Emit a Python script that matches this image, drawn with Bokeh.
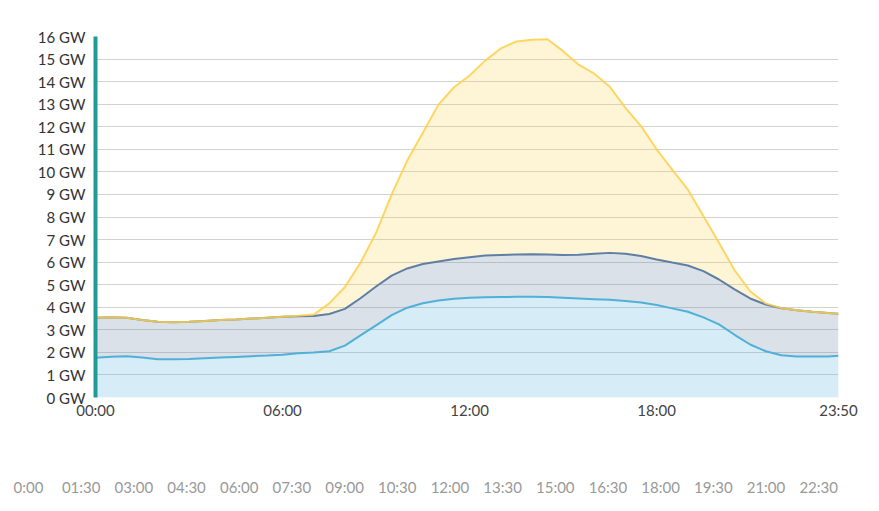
from bokeh.plotting import figure
from bokeh.models import Range1d, FixedTicker, ColumnDataSource
from bokeh.embed import file_html
from bokeh.resources import INLINE

times = ["00:00", "00:30", "01:00", "01:30", "02:00", "02:30", "03:00", "03:30",
         "04:00", "04:30", "05:00", "05:30", "06:00", "06:30", "07:00", "07:30",
         "08:00", "08:30", "09:00", "09:30", "10:00", "10:30", "11:00", "11:30",
         "12:00", "12:30", "13:00", "13:30", "14:00", "14:30", "15:00", "15:30",
         "16:00", "16:30", "17:00", "17:30", "18:00", "18:30", "19:00", "19:30",
         "20:00", "20:30", "21:00", "21:30", "22:00", "22:30", "23:00", "23:30", "23:50"]

base_gw = [1.76, 1.81, 1.83, 1.77, 1.70, 1.69, 1.71, 1.74,
           1.77, 1.80, 1.83, 1.86, 1.90, 1.96, 1.99, 2.05,
           2.30, 2.75, 3.20, 3.65, 3.98, 4.18, 4.30, 4.38,
           4.42, 4.44, 4.45, 4.46, 4.46, 4.45, 4.42, 4.39,
           4.36, 4.33, 4.28, 4.21, 4.10, 3.95, 3.80, 3.55,
           3.24, 2.78, 2.35, 2.05, 1.87, 1.82, 1.82, 1.82, 1.85]

mid_gw = [3.53, 3.56, 3.53, 3.44, 3.36, 3.34, 3.36, 3.39,
          3.43, 3.46, 3.50, 3.54, 3.58, 3.60, 3.61, 3.70,
          3.93, 4.40, 4.92, 5.40, 5.72, 5.92, 6.03, 6.14,
          6.22, 6.29, 6.32, 6.34, 6.35, 6.34, 6.32, 6.33,
          6.37, 6.41, 6.37, 6.27, 6.12, 5.98, 5.85, 5.60,
          5.23, 4.79, 4.39, 4.12, 3.96, 3.87, 3.80, 3.74, 3.71]

top_gw = [3.53, 3.56, 3.53, 3.44, 3.36, 3.34, 3.36, 3.39,
          3.43, 3.46, 3.50, 3.54, 3.58, 3.62, 3.68, 4.17,
          4.90, 5.97, 7.30, 9.00, 10.50, 11.73, 12.98, 13.75,
          14.27, 14.93, 15.47, 15.78, 15.86, 15.88, 15.35, 14.75,
          14.35, 13.77, 12.84, 12.03, 11.00, 10.10, 9.22, 8.04,
          6.86, 5.64, 4.71, 4.17, 3.96, 3.87, 3.80, 3.74, 3.71]

y_ticks = list(range(0, 17))
y_tick_labels = [f"{v} GW" for v in y_ticks]
x_tick_labels = ["00:00", "06:00", "12:00", "18:00", "23:50"]
nav_tick_labels = ["0:00", "01:30", "03:00", "04:30", "06:00", "07:30", "09:00", "10:30",
                   "12:00", "13:30", "15:00", "16:30", "18:00", "19:30", "21:00", "22:30"]


def to_min(s):
    h, m = s.split(":")
    return int(h) * 60 + int(m)


minutes = [to_min(t) for t in times]
zeros = [0] * len(minutes)
src = ColumnDataSource(dict(x=minutes, zero=zeros, base=base_gw, mid=mid_gw, top=top_gw))

FONT = "Lato"
FSIZE = "15px"
end_min = to_min(times[-1])

p = figure(width=871, height=431, x_range=Range1d(0, end_min), y_range=Range1d(0, 16),
           output_backend="svg", toolbar_location=None,
           min_border_left=95, min_border_right=33, min_border_top=36, min_border_bottom=34)
p.outline_line_color = None

p.varea(x="x", y1="zero", y2="base", source=src, fill_color="#5ab4dc", fill_alpha=0.25)
p.varea(x="x", y1="base", y2="mid", source=src, fill_color="#6b87a8", fill_alpha=0.25)
p.varea(x="x", y1="mid", y2="top", source=src, fill_color="#fcd55a", fill_alpha=0.25)
p.line(x="x", y="base", source=src, line_color="#4fb0d8", line_width=2)
p.line(x="x", y="mid", source=src, line_color="#5f7ea3", line_width=2)
p.line(x="x", y="top", source=src, line_color="#fdd04a", line_width=2, line_alpha=0.85)

p.xgrid.visible = False
p.ygrid.grid_line_color = "#d2d2d2"
p.ygrid.grid_line_width = 1

p.yaxis.ticker = FixedTicker(ticks=y_ticks)
p.yaxis.major_label_overrides = {t: l for t, l in zip(y_ticks, y_tick_labels)}
p.yaxis.axis_line_color = "#1f9b95"
p.yaxis.axis_line_width = 4
p.yaxis.major_tick_line_color = None
p.yaxis.major_tick_out = 0
p.yaxis.minor_tick_line_color = None
p.yaxis.major_label_standoff = 10
p.yaxis.major_label_text_font = FONT
p.yaxis.major_label_text_font_size = FSIZE
p.yaxis.major_label_text_color = "#333333"

x_ticks = [to_min(t) for t in x_tick_labels]
p.xaxis.ticker = FixedTicker(ticks=x_ticks)
p.xaxis.major_label_overrides = {t: l for t, l in zip(x_ticks, x_tick_labels)}
p.xaxis.axis_line_color = None
p.xaxis.major_tick_line_color = None
p.xaxis.major_tick_out = 0
p.xaxis.minor_tick_line_color = None
p.xaxis.major_label_standoff = 3
p.xaxis.major_label_text_font = FONT
p.xaxis.major_label_text_font_size = FSIZE
p.xaxis.major_label_text_color = "#444444"

q = figure(width=871, height=70, x_range=Range1d(0, end_min), y_range=Range1d(0, 1),
           output_backend="svg", toolbar_location=None,
           min_border_left=28, min_border_right=6, min_border_top=0, min_border_bottom=40)
q.outline_line_color = None
q.grid.visible = False
q.yaxis.visible = False
nav_ticks = [to_min(t) for t in nav_tick_labels]
q.xaxis.ticker = FixedTicker(ticks=nav_ticks)
q.xaxis.major_label_overrides = {t: l for t, l in zip(nav_ticks, nav_tick_labels)}
q.xaxis.axis_line_color = None
q.xaxis.major_tick_line_color = None
q.xaxis.major_tick_out = 0
q.xaxis.minor_tick_line_color = None
q.xaxis.major_label_standoff = 16
q.xaxis.major_label_text_font = FONT
q.xaxis.major_label_text_font_size = FSIZE
q.xaxis.major_label_text_color = "#999999"

open("out.html", "w").write(file_html([p, q], INLINE))
